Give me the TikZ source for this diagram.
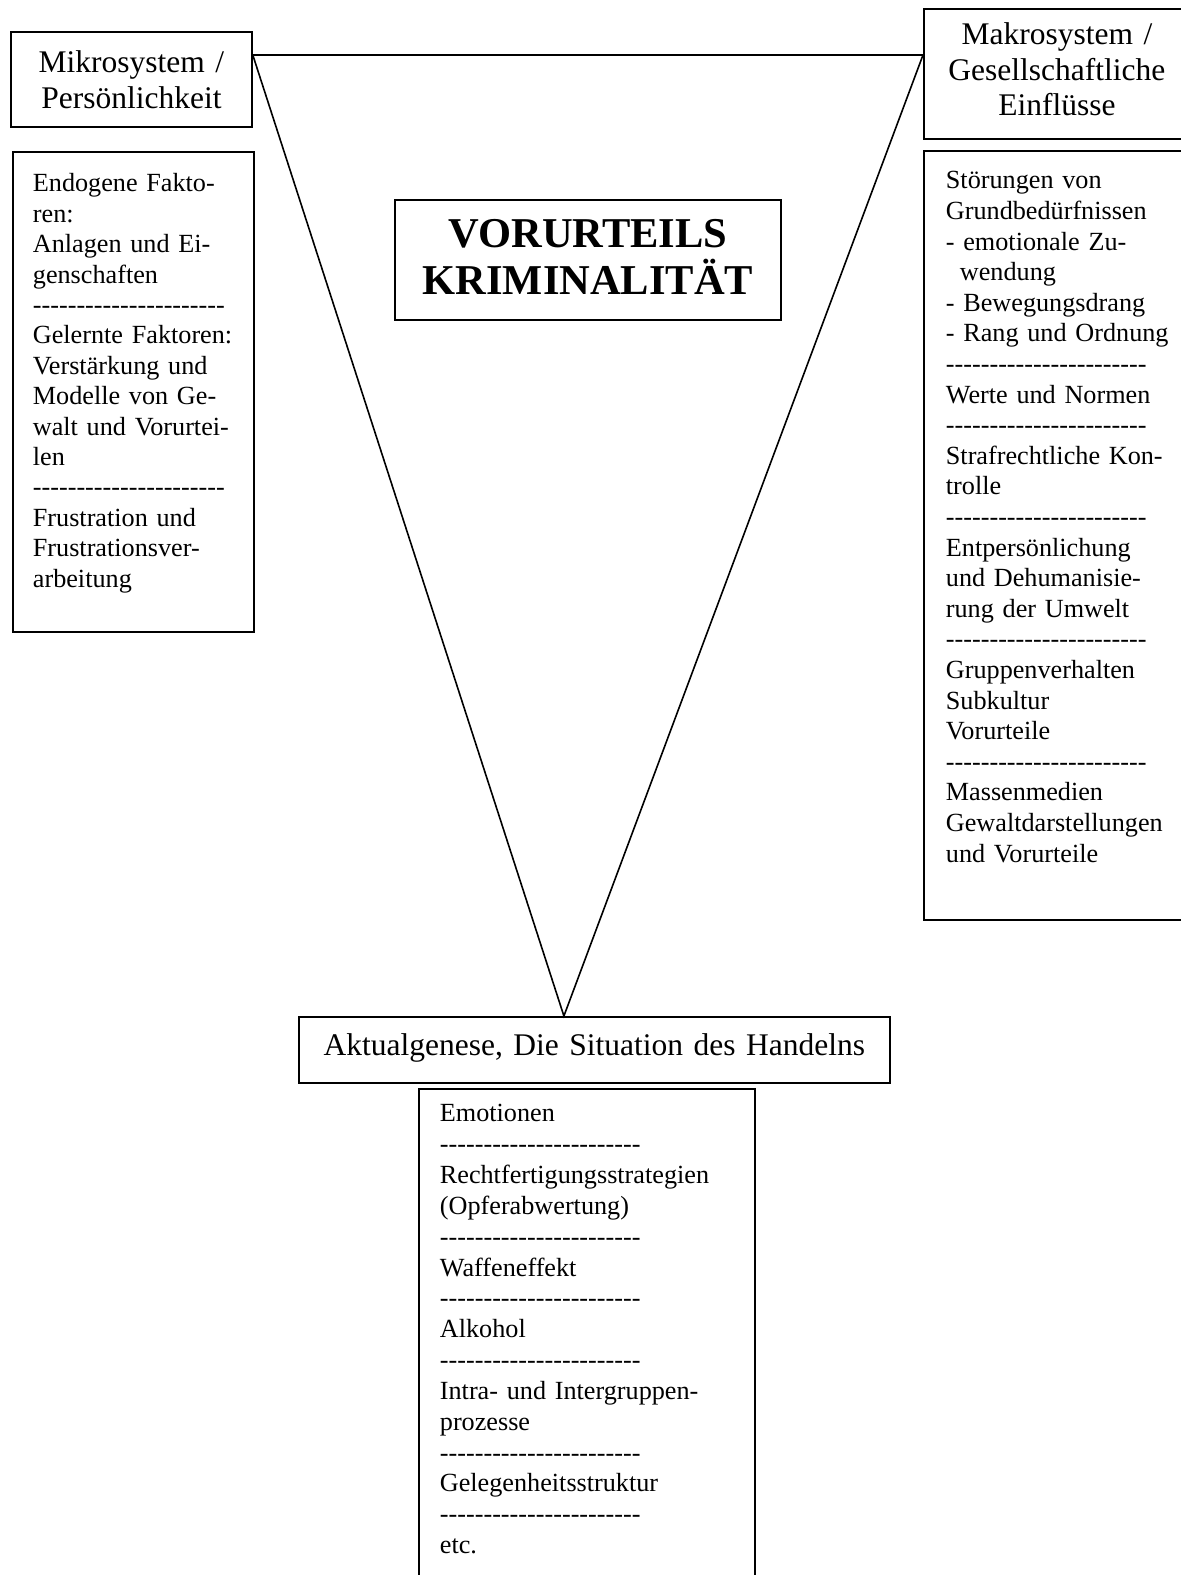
\documentclass[tikz,border=0pt]{standalone}
\usepackage{fontspec}
\setmainfont{Liberation Serif}

% row of single hyphens, no ligatures
\newcommand{\trenner}[1]{\foreach \k in {1,...,#1}{\mbox{-}}}

\tikzset{
  kasten/.style={draw, line width=1.8pt, inner ysep=0pt, anchor=north west},
  kopf/.style={kasten, align=center, inner xsep=8pt, font=\fontsize{31.5pt}{36pt}\selectfont},
  liste/.style={kasten, align=left, font=\fontsize{26.2pt}{30.6pt}\selectfont},
}

\begin{document}
\begin{tikzpicture}[x=1pt,y=-1pt]
  \useasboundingbox (0,0) rectangle (1181,1575);

  % head boxes
  \node[kopf, text width=225pt, text height=41pt, text depth=54pt] (mikro) at (10,31)
    {Mikrosystem /\\Persönlichkeit};
  \node[kopf, text width=250pt, text height=36pt, text depth=94pt,
        font=\fontsize{31.5pt}{35.5pt}\selectfont] (makro) at (923,8)
    {Makrosystem /\\Gesellschaftliche\\Einflüsse};
  \node[kopf, text width=575pt, text height=39pt, text depth=27pt] (akt) at (298,1016)
    {Aktualgenese, Die Situation des Handelns};

  % centre
  \node[kopf, text width=370pt, text height=48pt, text depth=72pt,
        font=\fontsize{42.5pt}{47pt}\selectfont\bfseries] (vk) at (394,199)
    {VORURTEILS\\KRIMINALITÄT};

  % lists
  \node[liste, inner xsep=20pt, text width=201pt, text height=40pt, text depth=440pt,
        font=\fontsize{26.2pt}{30.4pt}\selectfont] (mikroliste) at (12,151)
    {Endogene Fakto-\\ren:\\Anlagen und Ei-\\genschaften\\\trenner{22}\\
     \mbox{Gelernte Faktoren:}\\Verstärkung und\\Modelle von Ge-\\walt und Vorurtei-\\len\\\trenner{22}\\
     Frustration und\\Frustrationsver-\\arbeitung};

  \node[liste, inner xsep=22pt, text width=222pt, text height=38pt, text depth=731pt] (makroliste) at (923,150)
    {Störungen von\\Grundbedürfnissen\\- emotionale Zu-\\\hspace*{14pt}wendung\\- Bewegungsdrang\\
     \mbox{- Rang und Ordnung}\\\trenner{23}\\Werte und Normen\\\trenner{23}\\
     Strafrechtliche Kon-\\trolle\\\trenner{23}\\
     Entpersönlichung\\und Dehumanisie-\\rung der Umwelt\\\trenner{23}\\
     Gruppenverhalten\\Subkultur\\Vorurteile\\\trenner{23}\\
     Massenmedien\\Gewaltdarstellungen\\und Vorurteile};

  \node[liste, inner xsep=21pt, text width=294pt, text height=33pt, text depth=540pt,
        font=\fontsize{26.2pt}{30.84pt}\selectfont] (aktliste) at (418,1088)
    {Emotionen\\\trenner{23}\\Rechtfertigungsstrategien\\(Opferabwertung)\\\trenner{23}\\
     Waffeneffekt\\\trenner{23}\\Alkohol\\\trenner{23}\\
     Intra- und Intergruppen-\\prozesse\\\trenner{23}\\
     Gelegenheitsstruktur\\\trenner{23}\\etc.};

  % triangle
  \coordinate (tl) at ([yshift=-24pt]mikro.north east);
  \coordinate (tr) at ([yshift=-47pt]makro.north west);
  \coordinate (spitze) at ([xshift=-30.5pt]akt.north);
  \draw[line width=1.6pt] (tl) -- (tr) -- (spitze) -- cycle;
\end{tikzpicture}
\end{document}
